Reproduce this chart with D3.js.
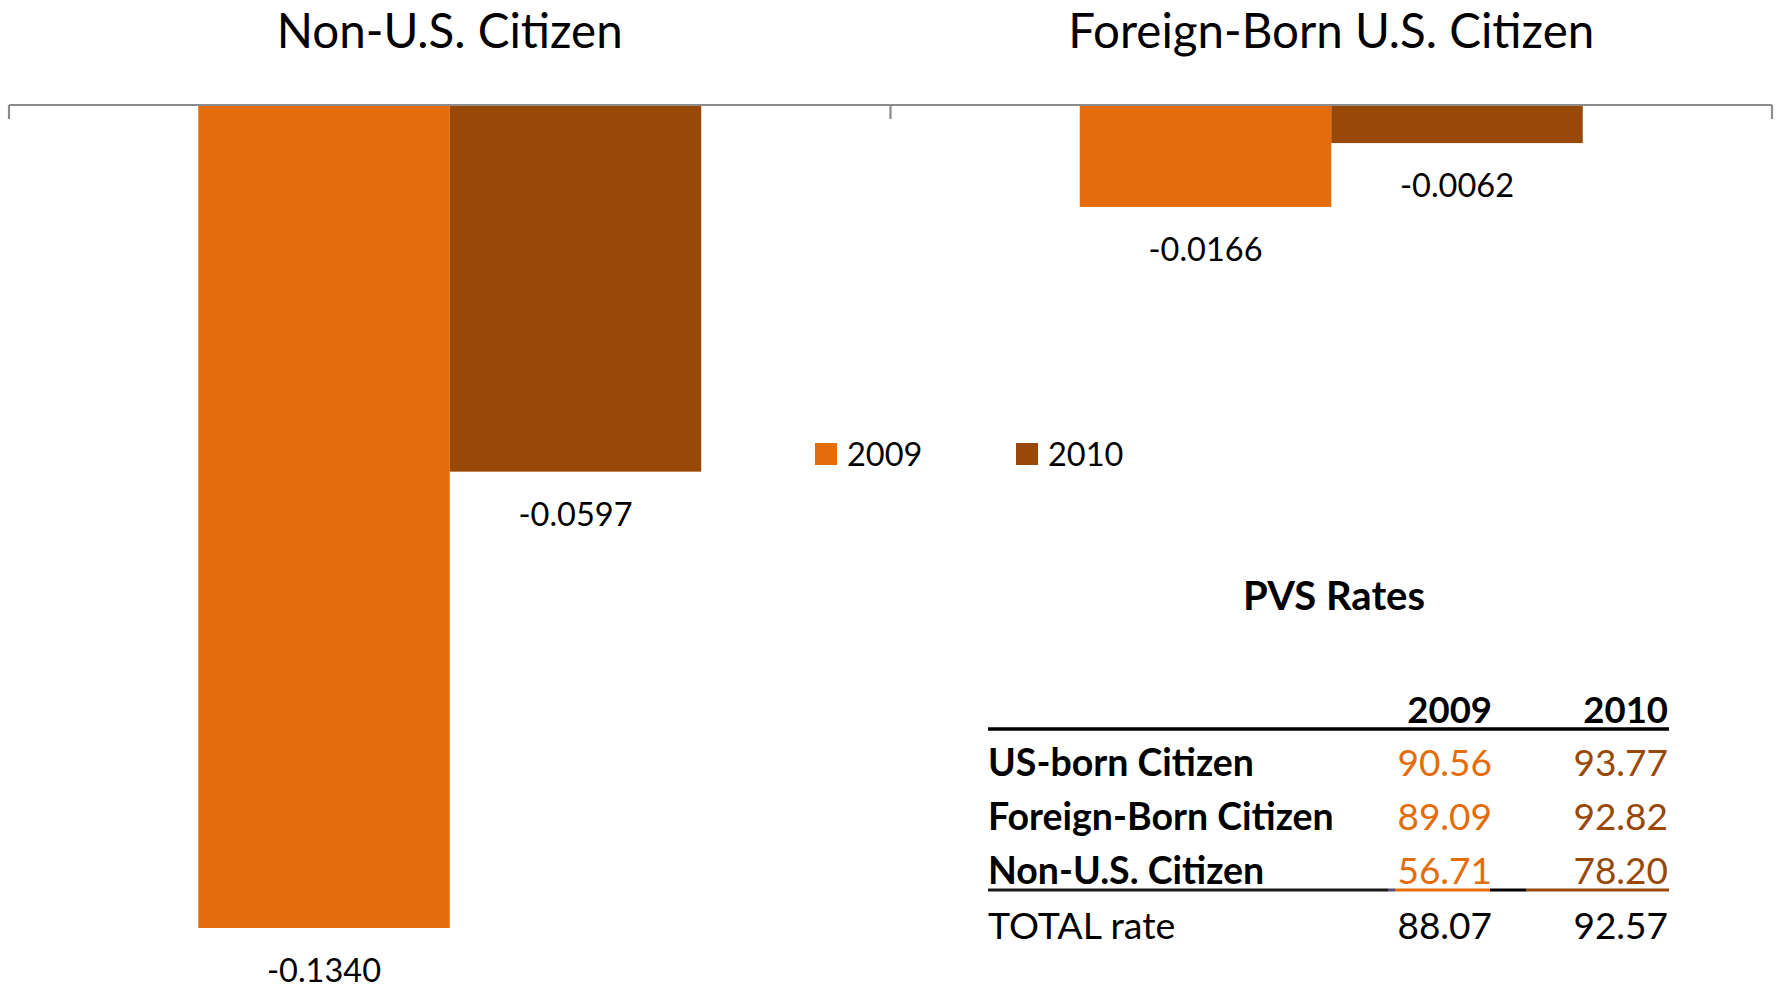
<!DOCTYPE html>
<html>
<head>
<meta charset="utf-8">
<script src="https://cdn.jsdelivr.net/npm/d3@7"></script>
<style>
  html, body { margin: 0; padding: 0; background: #ffffff; }
  svg { display: block; }
  text { font-family: Lato, "Open Sans", sans-serif; }
</style>
</head>
<body>
<svg id="chart" width="1785" height="990"></svg>
<script>
// ---- data ----
const categories = ["Non-U.S. Citizen", "Foreign-Born U.S. Citizen"];
const seriesNames = ["2009", "2010"];
const values2009 = [-0.1340, -0.0166];
const values2010 = [-0.0597, -0.0062];
const labels2009 = ["-0.1340", "-0.0166"];
const labels2010 = ["-0.0597", "-0.0062"];

const tableTitle = "PVS Rates";
const tableRows = ["US-born Citizen", "Foreign-Born Citizen", "Non-U.S. Citizen", "TOTAL rate"];
const rates2009 = ["90.56", "89.09", "56.71", "88.07"];
const rates2010 = ["93.77", "92.82", "78.20", "92.57"];

// ---- styles ----
const colors = { "2009": "#E46C0A", "2010": "#984807" };

const svg = d3.select("#chart");

const x0 = d3.scaleBand().domain(categories).range([9, 1772]).paddingInner(0).paddingOuter(0);
const x1 = d3.scaleBand().domain(seriesNames).range([0, x0.bandwidth()]).paddingInner(0).paddingOuter(0.7525);
const y = d3.scaleLinear().domain([-0.134, 0]).range([928, 105]);

const data = categories.map((c, i) => ({
  cat: c,
  vals: [
    { s: "2009", v: values2009[i], label: labels2009[i] },
    { s: "2010", v: values2010[i], label: labels2010[i] }
  ]
}));

// bars
const g = svg.append("g");
const groups = g.selectAll("g.cat").data(data).join("g")
  .attr("class", "cat")
  .attr("transform", d => `translate(${x0(d.cat)},0)`);

groups.selectAll("rect").data(d => d.vals).join("rect")
  .attr("x", d => x1(d.s))
  .attr("width", x1.bandwidth())
  .attr("y", d => y(Math.max(0, d.v)))
  .attr("height", d => Math.abs(y(d.v) - y(0)))
  .attr("fill", d => colors[d.s]);

groups.selectAll("text.lbl").data(d => d.vals).join("text")
  .attr("class", "lbl")
  .attr("x", d => x1(d.s) + x1.bandwidth() / 2)
  .attr("y", d => y(d.v) + 54)
  .attr("text-anchor", "middle")
  .attr("font-size", 32.5)
  .style("fill", "#000")
  .text(d => d.label);

// category titles
svg.selectAll("text.ctitle").data(categories).join("text")
  .attr("class", "ctitle")
  .attr("x", d => x0(d) + x0.bandwidth() / 2)
  .attr("y", 48)
  .attr("text-anchor", "middle")
  .attr("font-size", 47.5)
  .style("fill", "#000")
  .text(d => d);

// axis line at zero with tick marks at category boundaries
const axisColor = "#8c8c8c";
svg.append("line")
  .attr("x1", x0.range()[0]).attr("x2", x0.range()[1])
  .attr("y1", y(0)).attr("y2", y(0))
  .attr("stroke", axisColor).attr("stroke-width", 2.2);
const tickXs = categories.map(c => x0(c)).concat([x0.range()[1]]);
svg.selectAll("line.tick").data(tickXs).join("line")
  .attr("class", "tick")
  .attr("x1", d => d).attr("x2", d => d)
  .attr("y1", y(0)).attr("y2", y(0) + 14)
  .attr("stroke", axisColor).attr("stroke-width", 2.2);

// legend
const legX = { "2009": 815, "2010": 1016 };
const leg = svg.selectAll("g.leg").data(seriesNames).join("g")
  .attr("class", "leg")
  .attr("transform", d => `translate(${legX[d]},443)`);
leg.append("rect").attr("width", 22).attr("height", 22).attr("fill", d => colors[d]);
leg.append("text").attr("x", 32).attr("y", 22.5).attr("font-size", 32.5)
  .style("fill", "#000").text(d => d);

// PVS table
const tLeft = 988, tRight = 1669;
const col2009 = 1492, col2010 = 1668;
svg.append("text")
  .attr("x", 1334).attr("y", 610)
  .attr("text-anchor", "middle")
  .attr("font-size", 40).attr("font-weight", 700)
  .style("fill", "#000")
  .text(tableTitle);

svg.selectAll("text.hdr").data(seriesNames).join("text")
  .attr("class", "hdr")
  .attr("x", d => d === "2009" ? col2009 : col2010)
  .attr("y", 723)
  .attr("text-anchor", "end")
  .attr("font-size", 36.5).attr("font-weight", 700)
  .style("fill", "#000")
  .text(d => d);

svg.append("line")
  .attr("x1", tLeft).attr("x2", tRight)
  .attr("y1", 729).attr("y2", 729)
  .attr("stroke", "#000").attr("stroke-width", 3.4);

const rowY = i => 776 + i * 54.2;
const rows = svg.selectAll("g.row").data(tableRows).join("g").attr("class", "row");
rows.append("text")
  .attr("x", tLeft).attr("y", (d, i) => rowY(i))
  .attr("font-size", 37.5)
  .attr("font-weight", (d, i) => i < 3 ? 700 : 400)
  .style("fill", "#000")
  .text(d => d);
rows.append("text")
  .attr("x", col2009).attr("y", (d, i) => rowY(i))
  .attr("text-anchor", "end").attr("font-size", 37)
  .style("fill", (d, i) => i < 3 ? colors["2009"] : "#000")
  .text((d, i) => rates2009[i]);
rows.append("text")
  .attr("x", col2010).attr("y", (d, i) => rowY(i))
  .attr("text-anchor", "end").attr("font-size", 37)
  .style("fill", (d, i) => i < 3 ? colors["2010"] : "#000")
  .text((d, i) => rates2010[i]);

// bottom rule under Non-U.S. Citizen row (segmented colours)
const ruleY = 890;
const segs = [
  { a: tLeft, b: 1388, c: "#1a1a1a" },
  { a: 1388, b: 1395, c: "#5b4a7a" },
  { a: 1395, b: 1490, c: colors["2009"] },
  { a: 1490, b: 1526, c: "#000" },
  { a: 1526, b: tRight, c: colors["2010"] }
];
svg.selectAll("line.rule").data(segs).join("line")
  .attr("class", "rule")
  .attr("x1", d => d.a).attr("x2", d => d.b)
  .attr("y1", ruleY).attr("y2", ruleY)
  .attr("stroke", d => d.c).attr("stroke-width", 3);
</script>
</body>
</html>
